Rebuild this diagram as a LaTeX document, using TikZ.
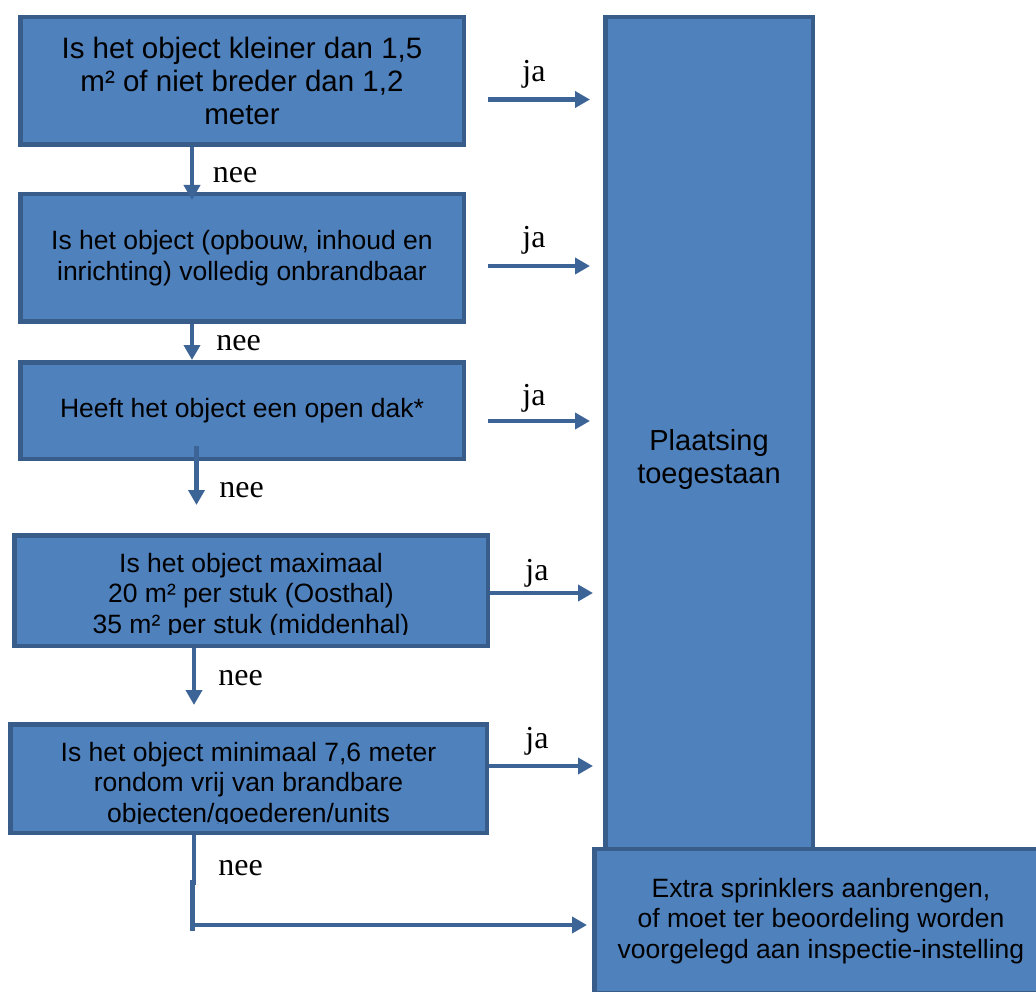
\documentclass[tikz,border=0pt]{standalone}
\usepackage{fontspec}
\setmainfont{Liberation Sans}
\newfontfamily\labelfont{Liberation Serif}
\usetikzlibrary{arrows.meta}
\definecolor{boxfill}{HTML}{4F81BD}
\definecolor{boxline}{HTML}{385D8A}
\definecolor{arrowline}{HTML}{3D6497}
\begin{document}
\begin{tikzpicture}[x=1pt, y=-1pt,
  question/.style={rectangle, draw=boxline, fill=boxfill, line width=4.5pt, inner sep=0pt, align=center, font=\fontsize{26.5}{30.5}\selectfont},
  big/.style={font=\fontsize{29}{33}\selectfont},
  answer/.style={anchor=base, font=\labelfont\fontsize{32}{36}\selectfont},
  flow/.style={draw=arrowline, line width=4.5pt},
  go/.style={flow, -{Triangle[length=15pt, width=16pt]}}]
\useasboundingbox (0,0) rectangle (1036,992);
\fill[white] (0,0) rectangle (1036,992);
\node[question, font=\fontsize{29.5}{33}\selectfont, minimum width=443.5pt, minimum height=127.5pt] (B1) at (242,81) {Is het object kleiner dan 1,5\\m² of niet breder dan 1,2\\meter};
\node[question, minimum width=443.5pt, minimum height=127.5pt] (B2) at (242,258) {Is het object (opbouw, inhoud en\\inrichting) volledig onbrandbaar};
\node[question, minimum width=443.5pt, minimum height=96.5pt] (B3) at (242,410.5) {Heeft het object een open dak*};
\node[question, minimum width=473.5pt, minimum height=110.5pt, path picture={
  \clip (path picture bounding box.north west) rectangle ([yshift=11pt]path picture bounding box.south east);
  \node[inner sep=0pt, align=center, font=\fontsize{26.5}{30.5}\selectfont] at ([yshift=-5.5pt]path picture bounding box.center) {Is het object maximaal\\20 m² per stuk (Oosthal)\\35 m² per stuk (middenhal)};
}] (B4) at (251,590.5) {};
\node[question, minimum width=476.5pt, minimum height=108.5pt, path picture={
  \clip (path picture bounding box.north west) rectangle ([yshift=9pt]path picture bounding box.south east);
  \node[inner sep=0pt, align=center, font=\fontsize{26.5}{30.5}\selectfont] at ([yshift=-6.5pt]path picture bounding box.center) {Is het object minimaal 7,6 meter\\rondom vrij van brandbare\\objecten/goederen/units};
}] (B5) at (248.5,778.5) {};
\node[question, big, minimum width=207.5pt, minimum height=886pt] (P) at (709,460) {Plaatsing\\toegestaan};
\node[question, minimum width=453.5pt, minimum height=144pt] (E) at (821,921) {Extra sprinklers aanbrengen,\\of moet ter beoordeling worden\\voorgelegd aan inspectie-instelling};
\coordinate (j1) at ([yshift=-18.5pt]B1.east);
\coordinate (j2) at ([yshift=-8pt]B2.east);
\coordinate (j3) at ([yshift=-10.5pt]B3.east);
\coordinate (j4) at ([yshift=-2.5pt]B4.east);
\coordinate (j5) at ([yshift=12.5pt]B5.east);
\draw[go, shorten <=22pt, shorten >=13pt] (j1) -- (j1 -| P.west);
\draw[go, shorten <=22pt, shorten >=13pt] (j2) -- (j2 -| P.west);
\draw[go, shorten <=22pt, shorten >=13pt] (j3) -- (j3 -| P.west);
\draw[go, shorten >=10pt] (j4) -- (j4 -| P.west);
\draw[go, shorten >=10pt] (j5) -- (j5 -| P.west);
\node[answer] at (534,82) {ja};
\node[answer] at (534,248) {ja};
\node[answer] at (534,405) {ja};
\node[answer] at (537,580) {ja};
\node[answer] at (537,748) {ja};
\coordinate (n1) at ([xshift=-50pt]B1.south);
\coordinate (n2) at ([xshift=-50pt]B2.south);
\coordinate (n3) at ([xshift=-45.5pt, yshift=15pt]B3.south);
\coordinate (n4) at ([xshift=-57pt]B4.south);
\coordinate (n5) at ([xshift=-54.5pt]B5.south);
\coordinate (gap3) at (196.5,505);
\coordinate (gap4) at (194,705);
\coordinate (drop) at (192.5,880);
\coordinate (turn) at (192.5,925);
\draw[go, shorten >=-8pt] (n1) -- (n1 |- B2.north);
\draw[go] (n2) -- (n2 |- B3.north);
\draw[go] (n3) -- (gap3);
\draw[go] (n4) -- (gap4);
\draw[flow] (n5) -- ++(0,50);
\draw[flow] (drop) -- ++(0,51);
\draw[go, shorten >=5pt] (turn) -- (turn -| E.west);
\node[answer] at (235,183) {nee};
\node[answer] at (238.5,350) {nee};
\node[answer] at (241.5,497) {nee};
\node[answer] at (240.5,685) {nee};
\node[answer] at (240.5,875) {nee};
\end{tikzpicture}
\end{document}
